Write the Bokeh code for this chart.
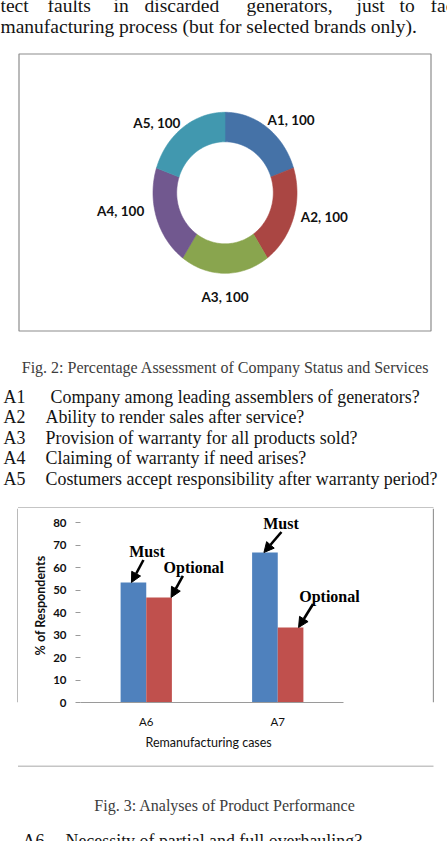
import math

from bokeh.core.properties import value
from bokeh.embed import file_html
from bokeh.layouts import column, row
from bokeh.models import (Arrow, ColumnDataSource, FixedTicker, Label, NormalHead,
                          Range1d, SingleIntervalTicker, Title)
from bokeh.plotting import figure
from bokeh.resources import INLINE
from bokeh.transform import dodge

# ---------------------------------------------------------------- data
# Fig. 2 - company status and services (doughnut)
status_items = ["A1", "A2", "A3", "A4", "A5"]
status_scores = [100, 100, 100, 100, 100]
status_questions = [
    "Company among leading assemblers of generators?",
    "Ability to render sales after service?",
    "Provision of warranty for all products sold?",
    "Claiming of warranty if need arises?",
    "Costumers accept responsibility after warranty period?",
]

# Fig. 3 - product performance (clustered bars, % of respondents)
cases = ["A6", "A7"]
must_pct = [53.33, 66.67]
optional_pct = [46.67, 33.33]
pct_ticks_step = 10
pct_axis_max = 80
case_questions = ["Necessity of partial and full overhauling?"]

# body text around the figures
body_line_1 = ["tect", "faults", "in", "discarded", "generators,", "just", "to", "facilit"]
body_line_2 = "manufacturing process (but for selected brands only)."
caption_2 = "Fig. 2: Percentage Assessment of Company Status and Services"
caption_3 = "Fig. 3: Analyses of Product Performance"

# ---------------------------------------------------------------- styles
PAGE_W = 447
SERIF = value("Liberation Serif")
SANS = value("Lato")
RING_COLORS = ["#4572A7", "#AA4643", "#89A54E", "#71588F", "#4198AF"]
MUST_COLOR = "#4F81BD"
OPT_COLOR = "#C0504D"
FRAME_GREY = "#8c8c8c"
TEXT = "#141414"
CAPTION = "#3c3c3c"


def sheet(width, height, x0, y0):
    """A blank strip of the page drawn in pixel units, y growing downwards."""
    p = figure(width=width, height=height,
               x_range=Range1d(x0, x0 + width), y_range=Range1d(y0 + height, y0),
               x_axis_location=None, y_axis_location=None,
               output_backend="svg", toolbar_location=None, min_border=0)
    p.grid.visible = False
    p.outline_line_color = None
    p.background_fill_color = "white"
    p.border_fill_color = "white"
    return p


# ---------------------------------------------------------------- top strip
top = sheet(PAGE_W, 508, 0, 0)

word_x = [0, 47, 113, 144, 246, 356, 399, 430]
top.text(x=word_x, y=[4.5] * len(body_line_1), text=body_line_1,
         text_font=SERIF, text_font_size="19.5px", text_color=TEXT,
         text_baseline="alphabetic")
top.text(x=[0], y=[26], text=[body_line_2], text_font=SERIF,
         text_font_size="19.5px", text_color=TEXT, text_baseline="alphabetic")

# frame of Fig. 2
top.quad(left=18.5, right=430.5, top=53.5, bottom=330.5,
         fill_color=None, line_color=FRAME_GREY, line_width=1.2)

# doughnut ring built from the cumulative shares
cx, cy = 224.5, 192.3
rx_out, ry_out = 72.0, 80.5
rx_in, ry_in = 48.3, 51.0
total = float(sum(status_scores))
xs, ys, mids = [], [], []
acc = 0.0
for s in status_scores:
    a0 = 2 * math.pi * acc / total
    acc += s
    a1 = 2 * math.pi * acc / total
    n = 48
    outer = [a0 + (a1 - a0) * k / n for k in range(n + 1)]
    inner = outer[::-1]
    px = [cx + rx_out * math.sin(a) for a in outer] + [cx + rx_in * math.sin(a) for a in inner]
    py = [cy - ry_out * math.cos(a) for a in outer] + [cy - ry_in * math.cos(a) for a in inner]
    xs.append(px)
    ys.append(py)
    mids.append((a0 + a1) / 2)
top.patches(xs=xs, ys=ys, fill_color=RING_COLORS, line_color=RING_COLORS, line_width=0.6)

# data labels "A1, 100" placed outside each segment
label_nudge = [(-8, 4), (-6, -5), (0, 0), (1, -11), (6, 7)]
lab_x, lab_y, lab_t, lab_a = [], [], [], []
for item, s, m, (dx, dy) in zip(status_items, status_scores, mids, label_nudge):
    sx, cyy = math.sin(m), math.cos(m)
    lx = cx + (rx_out + 14) * sx
    ly = cy - (ry_out + 14) * cyy
    if abs(sx) < 0.2:
        align = "center"
        ly += 10 * (1 if cyy < 0 else -1)
    elif sx > 0:
        align = "left"
    else:
        align = "right"
    lab_x.append(lx + dx)
    lab_y.append(ly + dy)
    lab_t.append(f"{item}, {s}")
    lab_a.append(align)
top.text(x=lab_x, y=lab_y, text=lab_t, text_align=lab_a, text_baseline="middle",
         text_font=SANS, text_font_style="bold", text_font_size="13.5px", text_color="#111111")

top.text(x=[225], y=[366.5], text=[caption_2], text_align="center",
         text_baseline="alphabetic", text_font=SERIF, text_font_size="16px",
         text_color=CAPTION)

row_y = [396 + 20.5 * i for i in range(len(status_items))]
top.text(x=[3] * len(status_items), y=row_y, text=status_items,
         text_font=SERIF, text_font_size="17.9px", text_color=TEXT,
         text_baseline="alphabetic")
q_x = [50] + [45] * (len(status_items) - 1)
top.text(x=q_x, y=row_y, text=status_questions,
         text_font=SERIF, text_font_size="17.9px", text_color=TEXT,
         text_baseline="alphabetic")

# top edge of the Fig. 3 frame
top.segment(x0=[17.5], y0=[507.5], x1=[433], y1=[507.5], line_color=FRAME_GREY, line_width=1.2)

# ---------------------------------------------------------------- Fig. 3 row
ROW_H = 257
left_edge = sheet(18, ROW_H, 0, 508)
left_edge.segment(x0=[17.5], y0=[508], x1=[17.5], y1=[765], line_color=FRAME_GREY, line_width=1.2)
right_edge = sheet(15, ROW_H, 432, 508)
right_edge.segment(x0=[432.8], y0=[508], x1=[432.8], y1=[765], line_color=FRAME_GREY, line_width=1.2)

case_x = [i + 1 for i in range(len(cases))]
PX_X = 131.5                   # pixels per category slot
PX_Y = 2.25                    # pixels per percentage point
BORDER_L, BORDER_B = 62, 63
BAR_W_PX, BAR_H_PX = 414, ROW_H
x_end = 0.5 + (BAR_W_PX - BORDER_L) / PX_X
y_end = (BAR_H_PX - BORDER_B) / PX_Y   # head-room above the 80 % tick for call-outs

bars = figure(width=BAR_W_PX, height=BAR_H_PX,
              x_range=Range1d(0.5, x_end), y_range=Range1d(0, y_end),
              output_backend="svg", toolbar_location=None,
              min_border_left=BORDER_L, min_border_right=0, min_border_top=0,
              min_border_bottom=BORDER_B)
bars.grid.visible = False
bars.outline_line_color = None

bar_w = 0.195
src = ColumnDataSource(dict(x=case_x, must=must_pct, optional=optional_pct))
bars.vbar(x=dodge("x", -bar_w / 2), top="must", width=bar_w,
          source=src, fill_color=MUST_COLOR, line_color=None)
bars.vbar(x=dodge("x", bar_w / 2), top="optional", width=bar_w,
          source=src, fill_color=OPT_COLOR, line_color=None)

yax = bars.yaxis[0]
yax.ticker = FixedTicker(ticks=list(range(0, pct_axis_max + 1, pct_ticks_step)))
yax.axis_line_color = None
yax.major_tick_in = 0
yax.major_tick_out = 5
yax.major_tick_line_color = "#9a9a9a"
yax.minor_tick_line_color = None
yax.major_label_standoff = 9
yax.major_label_text_font = "Lato"
yax.major_label_text_font_style = "bold"
yax.major_label_text_font_size = "11.5px"
yax.major_label_text_color = "#111111"
yax.axis_label = "% of Respondents"
yax.axis_label_text_font = "Lato"
yax.axis_label_text_font_style = "bold"
yax.axis_label_text_font_size = "12.5px"
yax.axis_label_text_color = "#111111"
yax.axis_label_standoff = 2

xax = bars.xaxis[0]
xax.ticker = FixedTicker(ticks=case_x)
xax.major_label_overrides = dict(zip(case_x, cases))
xax.bounds = (0.5, 0.5 + len(cases))
xax.axis_line_color = "#9a9a9a"
xax.major_tick_line_color = None
xax.minor_tick_line_color = None
xax.major_tick_in = 0
xax.major_tick_out = 0
xax.major_label_standoff = 12
xax.major_label_text_font = "Lato"
xax.major_label_text_font_size = "11.5px"
xax.major_label_text_color = "#111111"

# axis title sits under the two category groups, not under the whole plot area
bars.add_layout(Title(text="Remanufacturing cases", align="left", offset=65,
                      text_font="Lato", text_font_style="normal", text_font_size="12.5px",
                      text_color="#111111", standoff=4), "below")

# call-outs pointing at the bar tops (offsets in screen pixels)
callouts = [
    # case index, series offset, value, tip dx, tail (dx, dy), text, text (dx, dy)
    (0, -bar_w / 2, must_pct[0], -2, (12.0, 22.5), "Must", (15.6, 31.0)),
    (0, bar_w / 2, optional_pct[0], 12, (11.8, 21.5), "Optional", (22.7, 29.5)),
    (1, -bar_w / 2, must_pct[1], -1, (17.5, 20.5), "Must", (17.0, 28.5)),
    (1, bar_w / 2, optional_pct[1], 8, (14.5, 23.5), "Optional", (30.9, 31.5)),
]
for ci, off, val, tdx, (ax, ay), word, (lx, ly) in callouts:
    tip_x = case_x[ci] + off + tdx / PX_X
    tip_y = val
    bars.add_layout(Arrow(end=NormalHead(size=10, fill_color="black", line_color="black",
                                         line_width=1),
                          x_start=tip_x + ax / PX_X, y_start=tip_y + ay / PX_Y,
                          x_end=tip_x, y_end=tip_y, line_color="black", line_width=2.6))
    bars.add_layout(Label(x=tip_x + lx / PX_X, y=tip_y + ly / PX_Y, text=word,
                          text_align="center", text_baseline="alphabetic",
                          text_font="Liberation Serif", text_font_style="bold",
                          text_font_size="16px", text_color="#000000"))

# ---------------------------------------------------------------- bottom strip
bottom = sheet(PAGE_W, 841 - 765, 0, 765)
bottom.segment(x0=[17.5], y0=[765.5], x1=[433], y1=[765.5], line_color=FRAME_GREY, line_width=1.2)
bottom.text(x=[224.5], y=[805], text=[caption_3], text_align="center",
            text_baseline="alphabetic", text_font=SERIF, text_font_size="16px",
            text_color=CAPTION)
bottom.text(x=[22, 65], y=[840.5, 840.5], text=[cases[0], case_questions[0]],
            text_font=SERIF, text_font_size="17.9px", text_color=TEXT,
            text_baseline="alphabetic")

page = column(top, row(left_edge, bars, right_edge, spacing=0), bottom, spacing=0)

with open("out.html", "w") as fh:
    fh.write(file_html(page, INLINE, title="Fig. 2 and Fig. 3"))
